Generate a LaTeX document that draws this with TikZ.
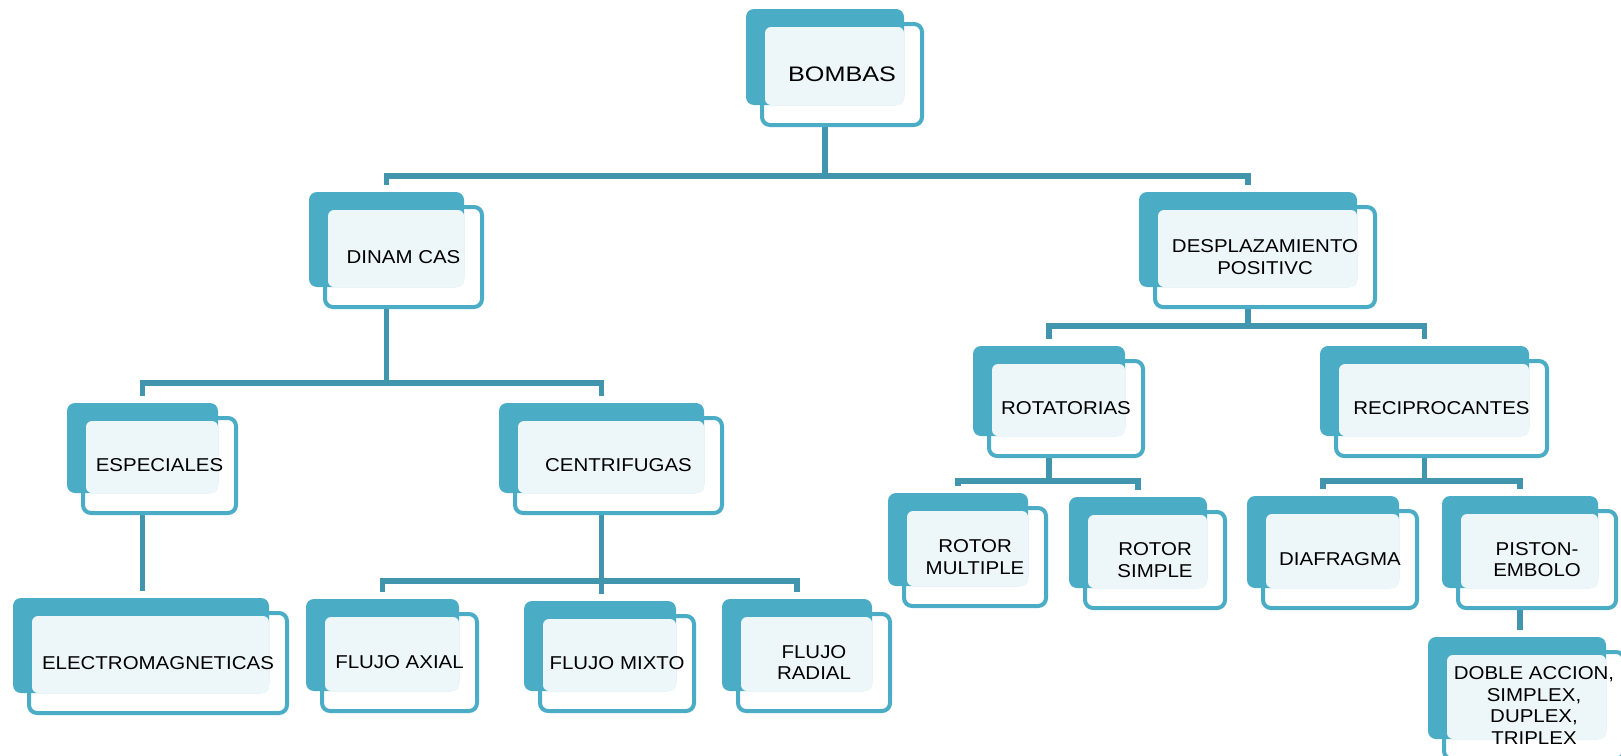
\documentclass[tikz,border=0pt]{standalone}
\usepackage{fontspec}
\setmainfont[FakeStretch=1.1]{Liberation Sans}
\newfontfamily\topfont[FakeStretch=1.2]{Liberation Sans}
\usetikzlibrary{backgrounds}

\definecolor{boxteal}{HTML}{4BACC6}
\definecolor{boxlight}{HTML}{EDF6F9}
\definecolor{linkteal}{HTML}{4196AD}

\newcommand{\pumpbox}[6]{%
  \node[frontbox, minimum width={(#4-#2)*0.5pt-2pt}, minimum height={(#5-#3)*0.5pt-2pt}]
    (#1) at ({(#2+#4)/2},{(#3+#5)/2}) {};
  \node[backbox, minimum width={(#4-#2)*0.5pt-3pt}, minimum height={(#5-#3)*0.5pt-4.5pt}]
    (#1B) at ([shift={(-17,-17.5)}]#1.center) {};
  \fill[boxlight, rounded corners=3pt] ([shift={(1.5pt,-1.5pt)}]#1.north west) rectangle (#1B.south east);
  \node[boxtext] (#1T) at (#1.center) {#6};
}

\begin{document}
\begin{tikzpicture}[x=0.5pt, y=-0.5pt,
  frontbox/.style={draw=boxteal, line width=2pt, fill=white, rounded corners=4pt, inner sep=0pt, outer sep=0pt},
  backbox/.style={fill=boxteal, rounded corners=4pt, inner sep=0pt, outer sep=0pt},
  boxtext/.style={font=\fontsize{9.3}{10.9}\selectfont, align=center, inner sep=0pt},
  link/.style={draw=linkteal, line width=2.6pt, shorten >=3.5pt}]
\useasboundingbox (0,0) rectangle (1621,755);
\clip (0,0) rectangle (1621,755);

\pumpbox{bombas}{760}{22}{924}{127}{{\topfont\fontsize{10.5}{12}\selectfont BOMBAS}}
\pumpbox{din}{323}{205}{484}{309}{DINAM CAS}
\pumpbox{desp}{1153}{205}{1377}{309}{DESPLAZAMIENTO\\POSITIVC}
\pumpbox{esp}{81}{416}{238}{515}{ESPECIALES}
\pumpbox{cen}{513}{416}{724}{515}{CENTRIFUGAS}
\pumpbox{rot}{987}{359}{1145}{458}{ROTATORIAS}
\pumpbox{rec}{1334}{359}{1549}{458}{RECIPROCANTES}
\pumpbox{ele}{27}{611}{289}{715}{ELECTROMAGNETICAS}
\pumpbox{axial}{320}{612}{479}{713}{FLUJO AXIAL}
\pumpbox{mixto}{538}{614}{696}{713}{FLUJO MIXTO}
\pumpbox{radial}{736}{612}{892}{713}{FLUJO\\RADIAL}
\pumpbox{rmul}{902}{506}{1048}{608}{ROTOR\\MULTIPLE}
\pumpbox{rsim}{1083}{510}{1227}{610}{ROTOR\\SIMPLE}
\pumpbox{dia}{1261}{509}{1419}{610}{DIAFRAGMA}
\pumpbox{pis}{1456}{509}{1618}{610}{PISTON-\\EMBOLO}
\pumpbox{doble}{1442}{650}{1626}{761}{DOBLE ACCION,\\SIMPLEX,\\DUPLEX,\\TRIPLEX}

\begin{scope}[on background layer]
\draw[link] (bombasB.south) -- (bombasB.south |- 0,176) -| (dinB.north);
\draw[link] (bombasB.south |- 0,176) -| (despB.north);
\draw[link] (dinB.south) -- (dinB.south |- 0,383) -| (espB.north);
\draw[link] (dinB.south |- 0,383) -| (cenB.north);
\draw[link] (despB.south) -- (despB.south |- 0,326) -| (rotB.north);
\draw[link] (despB.south |- 0,326) -| (recB.north);
\draw[link] (espB.south) -- (espB.south |- eleB.north);
\draw[link] (cenB.south) -- (cenB.south |- 0,581) -| (axialB.north);
\draw[link] (cenB.south |- 0,581) -| (radialB.north);
\draw[link] (cenB.south) -- (cenB.south |- mixtoB.north);
\draw[link] (rotB.south) -- (rotB.south |- 0,481) -| (rmulB.north);
\draw[link] (rotB.south |- 0,481) -| (rsimB.north);
\draw[link] (recB.south) -- (recB.south |- 0,481) -| (diaB.north);
\draw[link] (recB.south |- 0,481) -| (pisB.north);
\draw[link] (pisB.south) -- (pisB.south |- dobleB.north);
\end{scope}
\end{tikzpicture}
\end{document}
